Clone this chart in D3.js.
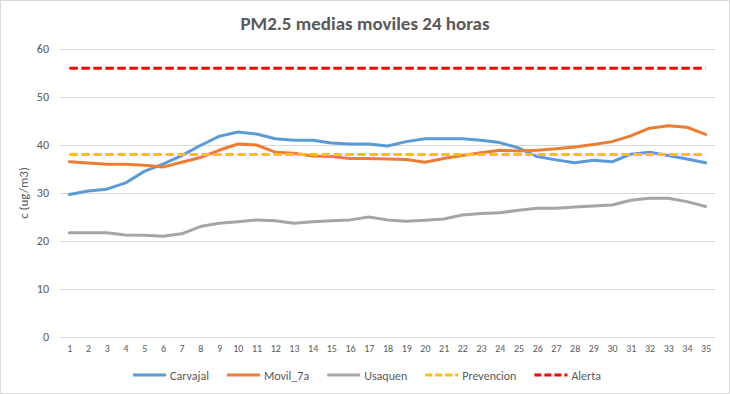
<!DOCTYPE html>
<html>
<head>
<meta charset="utf-8">
<script src="https://cdn.jsdelivr.net/npm/d3@7"></script>
<style>
  body { margin: 0; background: #fff; }
  svg { display: block; font-family: Carlito, Lato, "Open Sans", sans-serif; }
</style>
</head>
<body>
<div id="chart"></div>
<script>
// categories (dias)
var dias = d3.range(1, 36);

// series values
var carvajal = [29.7, 30.4, 30.8, 32.1, 34.5, 36.0, 37.8, 39.9, 41.8, 42.7, 42.3, 41.3, 41.0, 41.0, 40.4,
                40.2, 40.2, 39.8, 40.7, 41.3, 41.3, 41.3, 41.0, 40.5, 39.4, 37.6, 36.9, 36.3, 36.8, 36.5,
                38.1, 38.5, 37.8, 37.1, 36.3];
var movil7a = [36.5, 36.25, 36.0, 36.0, 35.8, 35.4, 36.4, 37.4, 38.9, 40.2, 40.0, 38.5, 38.3, 37.7, 37.6,
               37.2, 37.2, 37.1, 37.0, 36.4, 37.2, 37.8, 38.4, 38.9, 38.75, 38.9, 39.2, 39.6, 40.1, 40.7,
               41.9, 43.5, 44.0, 43.7, 42.2];
var usaquen = [21.7, 21.7, 21.7, 21.25, 21.2, 21.0, 21.5, 23.0, 23.7, 24.0, 24.4, 24.2, 23.7, 24.0, 24.2,
               24.4, 25.0, 24.4, 24.1, 24.3, 24.6, 25.4, 25.75, 25.9, 26.4, 26.8, 26.8, 27.1, 27.3, 27.5,
               28.5, 28.9, 28.9, 28.2, 27.2];
var prevencion = [38, 38, 38, 38, 38, 38, 38, 38, 38, 38, 38, 38, 38, 38, 38, 38, 38, 38, 38, 38,
                  38, 38, 38, 38, 38, 38, 38, 38, 38, 38, 38, 38, 38, 38, 38];
var alerta = [56, 56, 56, 56, 56, 56, 56, 56, 56, 56, 56, 56, 56, 56, 56, 56, 56, 56, 56, 56,
              56, 56, 56, 56, 56, 56, 56, 56, 56, 56, 56, 56, 56, 56, 56];

var yTicks = [0, 10, 20, 30, 40, 50, 60];

var series = [
  {name: "Carvajal", values: carvajal, color: "#5B9BD5", dash: null},
  {name: "Movil_7a", values: movil7a, color: "#ED7D31", dash: null},
  {name: "Usaquen", values: usaquen, color: "#A5A5A5", dash: null},
  {name: "Prevencion", values: prevencion, color: "#FFC000", dash: "8.5,3.5"},
  {name: "Alerta", values: alerta, color: "#FF0000", dash: "8.5,3.5"}
];

var W = 730, H = 394;
var plot = {left: 60, right: 715, top: 49, bottom: 337};
var textColor = "#595959";

var svg = d3.select("#chart").append("svg")
    .attr("width", W)
    .attr("height", H);

// chart border
svg.append("rect")
    .attr("x", 0.5).attr("y", 0.5)
    .attr("width", W - 1).attr("height", H - 1)
    .attr("fill", "#fff")
    .attr("stroke", "#D9D9D9");

// scales
var x = d3.scalePoint()
    .domain(dias)
    .range([plot.left, plot.right])
    .padding(0.5);

var y = d3.scaleLinear()
    .domain([0, 60])
    .range([plot.bottom, plot.top]);

// gridlines
svg.append("g")
    .selectAll("line")
    .data(yTicks)
    .join("line")
    .attr("x1", plot.left).attr("x2", plot.right)
    .attr("y1", function(d) { return Math.round(y(d)) + 0.5; })
    .attr("y2", function(d) { return Math.round(y(d)) + 0.5; })
    .attr("stroke", "#D9D9D9")
    .attr("stroke-width", 1);

// y axis labels
var yAxis = svg.append("g")
    .attr("transform", "translate(" + plot.left + ",0)")
    .call(d3.axisLeft(y).tickValues(yTicks).tickSize(0).tickPadding(11));
yAxis.select(".domain").remove();
yAxis.selectAll("text")
    .attr("fill", textColor)
    .style("font-size", "12px")
    .style("font-family", "Carlito, Lato, sans-serif");

// x axis labels
var xAxis = svg.append("g")
    .attr("transform", "translate(0," + plot.bottom + ")")
    .call(d3.axisBottom(x).tickSize(0).tickPadding(8));
xAxis.select(".domain").remove();
xAxis.selectAll("text")
    .attr("fill", textColor)
    .style("font-size", "10px")
    .style("font-family", "Carlito, Lato, sans-serif");

// lines
var line = d3.line()
    .x(function(d, i) { return x(dias[i]); })
    .y(function(d) { return y(d); });

svg.append("g")
    .selectAll("path")
    .data(series)
    .join("path")
    .attr("fill", "none")
    .attr("stroke", function(d) { return d.color; })
    .attr("stroke-width", 3)
    .attr("stroke-linejoin", "round")
    .attr("stroke-linecap", function(d) { return d.dash ? "butt" : "round"; })
    .attr("stroke-dasharray", function(d) { return d.dash; })
    .attr("d", function(d) { return line(d.values); });

// title
svg.append("text")
    .attr("x", 365)
    .attr("y", 30)
    .attr("text-anchor", "middle")
    .attr("fill", textColor)
    .style("font-size", "19px")
    .style("font-weight", "bold")
    .text("PM2.5 medias moviles 24 horas");

// y axis title
svg.append("text")
    .attr("transform", "translate(28,193) rotate(-90)")
    .attr("text-anchor", "middle")
    .attr("fill", textColor)
    .style("font-size", "13px")
    .text("c (ug/m3)");

// legend
var legend = svg.append("g");
var lx = 0;
series.forEach(function(s) {
  var g = legend.append("g").attr("transform", "translate(" + lx + ",0)");
  g.append("line")
    .attr("x1", 0).attr("x2", 33)
    .attr("y1", 0).attr("y2", 0)
    .attr("stroke", s.color)
    .attr("stroke-width", 3)
    .attr("stroke-dasharray", s.dash ? "7,3" : null);
  var t = g.append("text")
    .attr("x", 37)
    .attr("y", 4.5)
    .attr("fill", textColor)
    .style("font-size", "12px")
    .text(s.name);
  lx += 37 + t.node().getComputedTextLength() + 18;
});
lx -= 18;
legend.attr("transform", "translate(" + (367 - lx / 2) + ",375)");
</script>
</body>
</html>
